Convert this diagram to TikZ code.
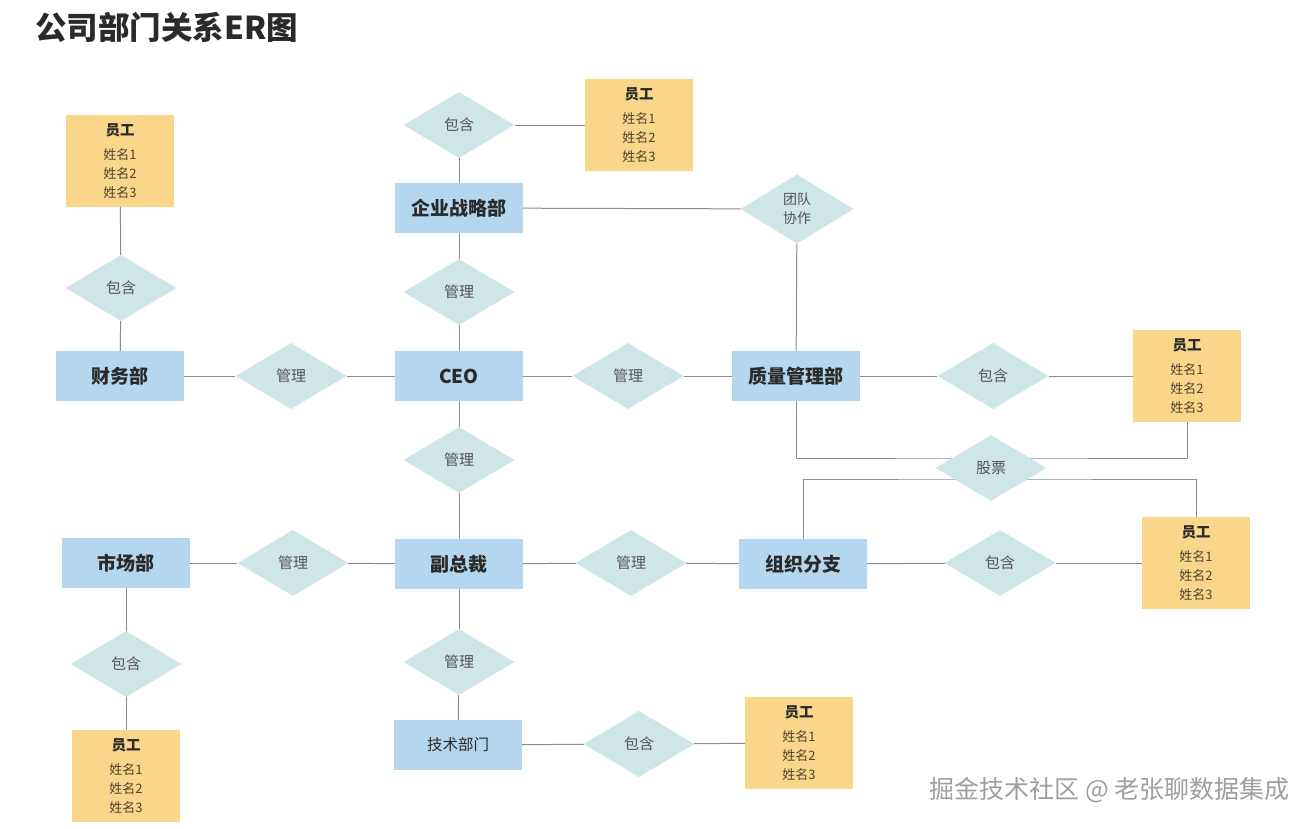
\documentclass[tikz,border=0pt]{standalone}
\usepackage{fontspec}
\setmainfont{Noto Sans CJK SC}
\usetikzlibrary{shapes.geometric,backgrounds,calc}
\definecolor{entblue}{HTML}{B4D6EE}
\definecolor{relteal}{HTML}{CFE6E9}
\definecolor{emporange}{HTML}{F9D68A}
\definecolor{linegray}{HTML}{8C8C8C}
\definecolor{txtdark}{HTML}{2A2A2A}
\definecolor{txtrel}{HTML}{555555}
\definecolor{txtemp}{HTML}{4E4230}
\tikzset{
  entity/.style={rectangle, fill=entblue, minimum width=128pt, minimum height=50pt, inner sep=0pt,
    text=txtdark, font=\fontsize{19}{22}\selectfont\bfseries},
  entitylight/.style={entity, font=\fontsize{15.5}{18}\selectfont},
  rel/.style={diamond, fill=relteal, minimum width=111pt, minimum height=66pt, inner sep=0pt,
    text=txtrel, font=\fontsize{15}{19}\selectfont, align=center},
  emp/.style={rectangle, fill=emporange, minimum width=108pt, minimum height=92pt, inner sep=0pt,
    text=txtemp, font=\fontsize{13}{19}\selectfont, align=center},
  conn/.style={draw=linegray, line width=1pt}
}
\newcommand{\emptext}{{\fontsize{14.5}{19}\selectfont\bfseries\color{txtdark}员工}\\[5pt]姓名1\\姓名2\\姓名3}
\begin{document}
\begin{tikzpicture}[x=1pt,y=-1pt]
\useasboundingbox (0,0) rectangle (1314,828);

\node[anchor=west, font=\fontsize{31.5}{35}\selectfont\bfseries, text=txtdark, inner sep=0pt] (title) at (35,27) {公司部门关系ER图};

% entities
\node[entity] (qs) at (459,208) {企业战略部};
\node[entity] (fin) at (120,376) {财务部};
\node[entity] (ceo) at (459,376) {CEO};
\node[entity] (qm) at (796,376) {质量管理部};
\node[entity] (mkt) at (126,563) {市场部};
\node[entity] (vp) at (459,564) {副总裁};
\node[entity] (org) at (803,564) {组织分支};
\node[entitylight] (tech) at (458,745) {技术部门};

% relationships
\node[rel] (bh1) at (459,125) {包含};
\node[rel, minimum width=113pt, minimum height=69pt, font=\fontsize{14}{19}\selectfont] (team) at (797,209) {团队\\协作};
\node[rel] (bhF) at (121,288) {包含};
\node[rel] (gl1) at (459,292) {管理};
\node[rel] (gl2) at (291,376) {管理};
\node[rel] (gl3) at (628,376) {管理};
\node[rel] (bhQ) at (993,376) {包含};
\node[rel] (gl4) at (459,460) {管理};
\node[rel] (stock) at (991,468) {股票};
\node[rel] (gl5) at (293,563) {管理};
\node[rel] (gl6) at (631,563) {管理};
\node[rel] (bhO) at (1000,563) {包含};
\node[rel] (bhM) at (126,664) {包含};
\node[rel] (gl7) at (459,662) {管理};
\node[rel] (bhT) at (639,744) {包含};

% employees
\node[emp] (emp1) at (639,125) {\emptext};
\node[emp] (empF) at (120,161) {\emptext};
\node[emp] (empQ) at (1187,376) {\emptext};
\node[emp] (empO) at (1196,563) {\emptext};
\node[emp] (empM) at (126,776) {\emptext};
\node[emp] (empT) at (799,743) {\emptext};

\coordinate (sa) at ($(stock.center)+(0,-10)$);
\coordinate (sb) at ($(stock.center)+(0,11)$);

\begin{pgfonlayer}{background}
\fill[white] (0,0) rectangle (1314,828);
\draw[conn] (bh1) -- (qs);
\draw[conn] (bh1) -- (emp1);
\draw[conn] (qs) -- (team);
\draw[conn] (team) -- (qm);
\draw[conn] (qs) -- (gl1);
\draw[conn] (gl1) -- (ceo);
\draw[conn] (empF) -- (bhF);
\draw[conn] (bhF) -- (fin);
\draw[conn] (fin) -- (gl2);
\draw[conn] (gl2) -- (ceo);
\draw[conn] (ceo) -- (gl3);
\draw[conn] (gl3) -- (qm);
\draw[conn] (qm) -- (bhQ);
\draw[conn] (bhQ) -- (empQ);
\draw[conn] (qm.south) |- (sa) -| (empQ.south);
\draw[conn] (org.north) |- (sb) -| (empO.north);
\draw[conn] (ceo) -- (gl4);
\draw[conn] (gl4) -- (vp);
\draw[conn] (mkt) -- (gl5);
\draw[conn] (gl5) -- (vp);
\draw[conn] (vp) -- (gl6);
\draw[conn] (gl6) -- (org);
\draw[conn] (org) -- (bhO);
\draw[conn] (bhO) -- (empO);
\draw[conn] (mkt) -- (bhM);
\draw[conn] (bhM) -- (empM);
\draw[conn] (vp) -- (gl7);
\draw[conn] (gl7) -- (tech);
\draw[conn] (tech) -- (bhT);
\draw[conn] (bhT) -- (empT);
\end{pgfonlayer}

\node[anchor=east, inner sep=0pt, font=\fontsize{25}{28}\selectfont, text=gray!75] (wm) at (1290,790) {掘金技术社区 @ 老张聊数据集成};
\end{tikzpicture}
\end{document}
